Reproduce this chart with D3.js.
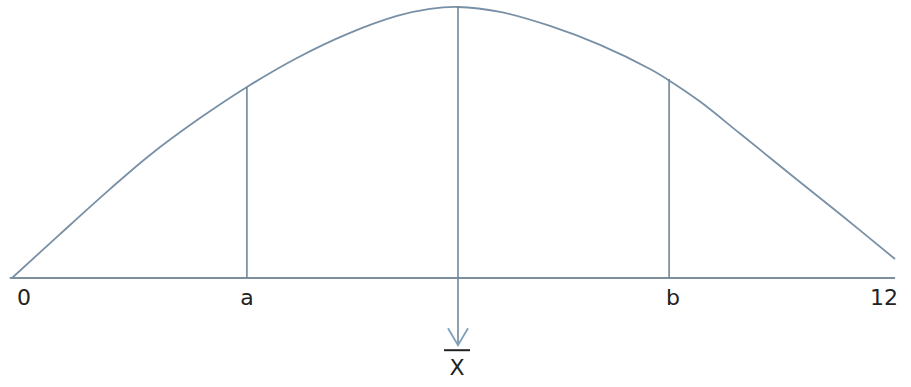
<!DOCTYPE html>
<html>
<head>
<meta charset="utf-8">
<script src="https://cdn.jsdelivr.net/npm/d3@7/dist/d3.min.js"></script>
<style>
  html, body { margin: 0; padding: 0; background: #fff; }
  svg { display: block; }
  text { font-family: "DejaVu Sans", Verdana, sans-serif; fill: #222; }
</style>
</head>
<body>
<svg id="chart" width="911" height="387"></svg>
<script>
// Curve (x in axis units 0..12, y in % of peak height)
const curveX = [0, 0.646, 1.318, 1.857, 2.529, 3.161, 3.834, 4.507, 5.180, 5.623, 6.0, 6.565, 7.238, 7.911, 8.583, 8.839, 9.256, 9.794, 10.466, 11.139, 11.879];
const curveY = [0, 16.2, 32.8, 45.4, 59.0, 70.5, 81.2, 90.0, 96.7, 99.3, 100, 98.2, 93.0, 86.0, 77.1, 72.9, 65.1, 53.3, 38.4, 23.6, 7.0];

// Axis extent and labels
const axisRange = [-0.03, 11.88];
const tickValues = [0, 3.16, 8.84, 12];
const tickLabels = ["0", "a", "b", "12"];

// Vertical markers
const markerX = [3.16, 8.84];
const markerTop = [70.5, 73.4];
const meanX = 6.0;
const meanTop = 100;
const meanBottom = -24.8;
const meanLabel = "X";

const svg = d3.select("#chart");
const x = d3.scaleLinear().domain([0, 12]).range([12, 904]);
const y = d3.scaleLinear().domain([0, 100]).range([278, 7]);

const lineColor = "#7890a6";

// Baseline
svg.append("line")
  .attr("x1", x(axisRange[0])).attr("x2", x(axisRange[1]))
  .attr("y1", y(0)).attr("y2", y(0))
  .attr("stroke", "#7d8f9c").attr("stroke-width", 2);

// Curve
const pts = curveX.map((d, i) => [d, curveY[i]]);
svg.append("path")
  .datum(pts)
  .attr("fill", "none")
  .attr("stroke", lineColor)
  .attr("stroke-width", 1.8)
  .attr("d", d3.line().x(d => x(d[0])).y(d => y(d[1])).curve(d3.curveCatmullRom.alpha(0.5)));

// Markers a and b
svg.selectAll("line.marker")
  .data(markerX)
  .enter().append("line")
  .attr("class", "marker")
  .attr("x1", d => x(d)).attr("x2", d => x(d))
  .attr("y1", (d, i) => y(markerTop[i])).attr("y2", y(0))
  .attr("stroke", "#6f8799").attr("stroke-width", 1.6);

// Mean line with arrow
svg.append("line")
  .attr("x1", x(meanX)).attr("x2", x(meanX))
  .attr("y1", y(meanTop)).attr("y2", y(meanBottom))
  .attr("stroke", "#6f8799").attr("stroke-width", 1.6);

const tipX = x(meanX), tipY = y(meanBottom);
svg.append("path")
  .attr("d", `M${tipX - 10},${tipY - 17} L${tipX},${tipY} L${tipX + 10},${tipY - 17}`)
  .attr("fill", "none")
  .attr("stroke", "#7fa0bb")
  .attr("stroke-width", 1.8);

// Overbar and X label
svg.append("line")
  .attr("x1", tipX - 14).attr("x2", tipX + 12)
  .attr("y1", tipY + 5).attr("y2", tipY + 5)
  .attr("stroke", "#222").attr("stroke-width", 2);

svg.append("text")
  .attr("x", tipX - 1).attr("y", tipY + 30)
  .attr("text-anchor", "middle")
  .attr("font-size", 22)
  .text(meanLabel);

// Tick labels
const anchors = ["start", "middle", "start", "end"];
const dxs = [5, 0, -3, -6];
svg.selectAll("text.tick")
  .data(tickValues)
  .enter().append("text")
  .attr("class", "tick")
  .attr("x", (d, i) => x(d) + dxs[i])
  .attr("y", 305)
  .attr("text-anchor", (d, i) => anchors[i])
  .attr("font-size", 22)
  .text((d, i) => tickLabels[i]);
</script>
</body>
</html>
